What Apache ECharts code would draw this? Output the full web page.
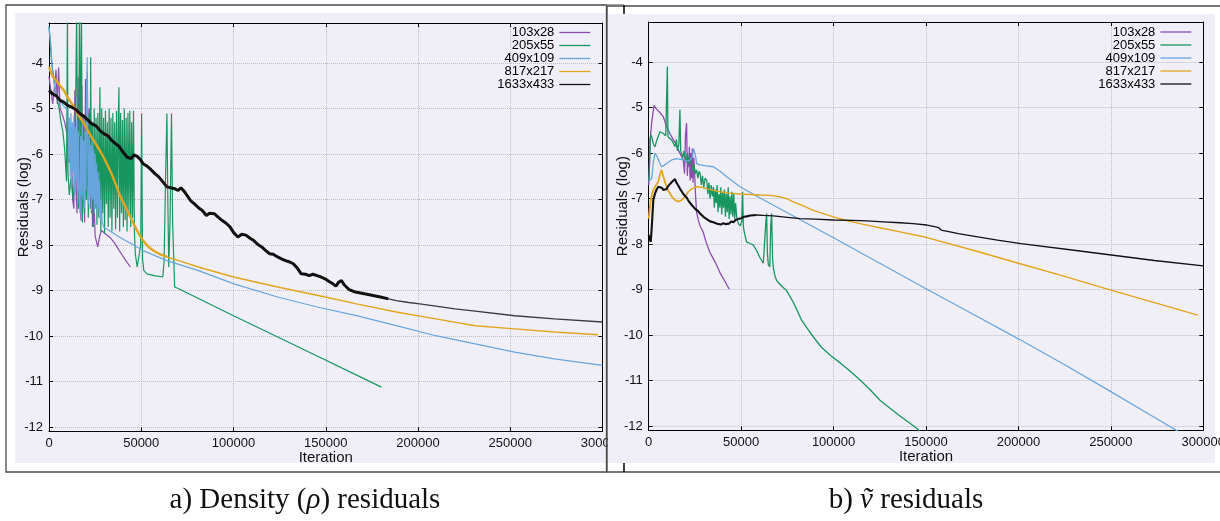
<!DOCTYPE html>
<html>
<head>
<meta charset="utf-8">
<script src="https://cdn.jsdelivr.net/npm/echarts@6/dist/echarts.min.js"></script>
<style>html,body{margin:0;padding:0;background:#fff}#c{width:1220px;height:521px}</style>
</head>
<body>
<div id="c"></div>
<script>
// ---------- DATA ----------
const seriesNames = ['103x28', '205x55', '409x109', '817x217', '1633x433'];
const captionA = ['a) Density (', 'ρ', ') residuals'];
const captionB = ['b) ', 'ṽ', ' residuals'];
const xTitle = 'Iteration';
const yTitle = 'Residuals (log)';

// a) density residuals  [iteration, log10 residual]
const rho103 = [[0,-4.3],[1000,-4.6],[2000,-4.9],[3000,-4.5],[3800,-4.15],[4500,-4.9],[5200,-4.1],[6000,-5.0],[7000,-5.1],[8500,-5.3],[10000,-5.6],[11000,-6.2],[12000,-5.4],[12800,-7.0],[13500,-7.2],[14000,-4.6],[14600,-6.8],[15200,-7.3],[15800,-4.3],[16300,-7.1],[16800,-5.6],[17300,-7.46],[17800,-4.5],[18300,-7.2],[18800,-5.2],[19300,-7.5],[19800,-4.35],[20300,-7.0],[20800,-4.2],[21300,-6.6],[21800,-5.0],[22400,-7.2],[23000,-6.0],[23600,-7.6],[24200,-6.8],[25000,-7.8],[26400,-8.04],[27500,-7.8],[28500,-7.68],[30500,-7.75],[32800,-7.82],[35500,-7.95],[38100,-8.12],[41000,-8.3],[44100,-8.48]];
const rho205 = [[0,-3.2],[700,-3.6],[1500,-4.0],[2500,-4.3],[3500,-4.6],[4500,-4.8],[5500,-5.0],[6500,-5.3],[7500,-5.5],[8500,-5.9],[9500,-6.6],[10000,-2.8],[10300,-6.4],[11000,-6.9],[12000,-6.5],[13000,-7.0],[14000,-6.6],[15000,-2.8],[15500,-6.2],[16000,-7.2],[16500,-2.8],[17000,-6.0],[17600,-2.8],[18100,-7.5],[18700,-5.5],[19200,-7.3],[19800,-5.2],[20300,-7.0],[20800,-5.4],[21300,-7.4],[21800,-5.1],[22300,-6.9],[22600,-3.87],[23000,-7.3],[23500,-5.3],[24000,-7.6],[24500,-5.0],[25000,-7.2],[25500,-5.2],[26000,-7.55],[26500,-5.1],[27000,-7.4],[27600,-4.53],[28100,-7.7],[28600,-5.0],[29100,-7.3],[29600,-5.2],[30100,-7.75],[30600,-5.05],[31100,-7.1],[31600,-5.3],[32100,-7.6],[32600,-5.0],[33100,-7.4],[33600,-5.2],[34100,-7.7],[34600,-5.1],[35100,-7.2],[35600,-5.3],[36100,-7.65],[36600,-5.05],[37100,-7.4],[37600,-5.2],[37900,-4.53],[38300,-7.7],[38800,-5.1],[39300,-7.3],[39800,-5.25],[40300,-7.6],[40800,-5.0],[41300,-7.45],[41800,-5.2],[42300,-7.7],[42800,-5.1],[43300,-7.3],[43800,-5.05],[44300,-7.6],[44800,-5.3],[45300,-7.4],[45800,-5.05],[46300,-7.7],[46800,-8.2],[47800,-8.48],[48800,-8.5],[49700,-8.0],[50200,-5.11],[50700,-8.3],[51400,-8.56],[53100,-8.63],[57000,-8.67],[61700,-8.7],[62400,-8.34],[63200,-6.5],[63900,-5.11],[64400,-7.0],[64900,-8.48],[65600,-7.5],[66400,-5.11],[67000,-7.5],[68100,-8.92],[70300,-8.96],[100000,-9.55],[140000,-10.33],[180200,-11.12]];
const rho409 = [[0,-3.2],[1000,-3.6],[1700,-4.1],[3000,-4.5],[4000,-4.7],[6000,-4.82],[8000,-4.95],[10300,-5.04],[10700,-6.1],[11100,-5.2],[11500,-6.5],[11900,-5.1],[12300,-6.72],[12700,-5.3],[13100,-6.4],[13500,-5.15],[13900,-6.9],[14300,-5.4],[14700,-6.6],[15100,-5.25],[15500,-7.1],[15900,-5.5],[16300,-6.8],[16800,-7.3],[17200,-5.6],[17600,-6.9],[18000,-5.35],[18400,-7.0],[18800,-5.7],[19200,-7.2],[19600,-5.5],[20000,-6.8],[20400,-4.6],[20700,-3.87],[21000,-5.9],[21400,-7.1],[21800,-5.6],[22200,-6.95],[22600,-5.8],[23000,-7.25],[23400,-5.7],[23800,-7.0],[24200,-5.9],[24600,-7.3],[25000,-6.0],[25400,-7.1],[25800,-6.2],[26200,-7.35],[26600,-6.4],[27000,-7.2],[27400,-6.6],[27800,-7.45],[28300,-7.0],[28800,-7.5],[29600,-7.6],[38100,-7.82],[51000,-8.12],[63900,-8.34],[81000,-8.56],[100300,-8.85],[123900,-9.14],[145300,-9.36],[166700,-9.55],[188200,-9.77],[209600,-9.99],[231000,-10.17],[252400,-10.35],[273900,-10.5],[300000,-10.64]];
const rho817 = [[0,-4.09],[2000,-4.3],[3900,-4.38],[6000,-4.5],[8100,-4.6],[10000,-4.75],[12400,-4.89],[14500,-5.03],[16700,-5.19],[19000,-5.33],[21000,-5.48],[23000,-5.62],[25300,-5.77],[27500,-5.92],[29600,-6.07],[31800,-6.25],[33900,-6.43],[36000,-6.65],[38100,-6.87],[40000,-7.05],[42400,-7.24],[44500,-7.42],[46700,-7.6],[48800,-7.76],[51000,-7.9],[53000,-8.0],[55200,-8.08],[57400,-8.14],[59700,-8.19],[63900,-8.26],[70300,-8.34],[81000,-8.48],[100000,-8.7],[123900,-8.92],[145300,-9.1],[166700,-9.29],[188200,-9.47],[209600,-9.62],[231000,-9.77],[252400,-9.84],[273900,-9.91],[297500,-9.97]];
const rho1633 = [[0,-4.6],[2000,-4.68],[4000,-4.72],[6000,-4.82],[8000,-4.86],[10000,-4.93],[12400,-4.97],[14500,-5.02],[16700,-5.11],[19000,-5.17],[21000,-5.25],[23100,-5.33],[25500,-5.38],[27500,-5.48],[29600,-5.55],[32000,-5.6],[34000,-5.7],[36000,-5.77],[38000,-5.83],[40000,-5.95],[42400,-6.07],[44500,-6.1],[46000,-6.02],[47800,-6.05],[49500,-6.12],[51000,-6.21],[53000,-6.26],[55000,-6.33],[57400,-6.43],[59500,-6.5],[61500,-6.6],[63900,-6.72],[66000,-6.74],[68100,-6.76],[70000,-6.8],[71500,-6.74],[73500,-6.83],[75000,-6.92],[76700,-7.02],[79000,-7.1],[81000,-7.18],[83100,-7.24],[85300,-7.35],[87000,-7.3],[89600,-7.31],[91500,-7.38],[93900,-7.46],[96000,-7.52],[98100,-7.6],[100000,-7.72],[102400,-7.82],[104500,-7.76],[106700,-7.78],[109000,-7.85],[111000,-7.9],[113000,-7.98],[115300,-8.04],[117500,-8.12],[119600,-8.19],[121500,-8.2],[123900,-8.26],[126000,-8.3],[128200,-8.34],[130500,-8.37],[132400,-8.41],[134500,-8.5],[136700,-8.63],[139000,-8.64],[141000,-8.67],[143000,-8.64],[145300,-8.67],[147500,-8.7],[149600,-8.74],[151800,-8.8],[153900,-8.85],[155500,-8.9],[157100,-8.81],[158500,-8.78],[160000,-8.87],[162400,-8.97],[166000,-9.03],[171000,-9.07],[175000,-9.1],[179600,-9.14],[184000,-9.18],[188200,-9.22],[195000,-9.26],[201000,-9.29],[209600,-9.34],[220000,-9.4],[231000,-9.45],[252400,-9.55],[273900,-9.62],[300000,-9.69]];

// b) nu-tilde residuals
const nu103 = [[0,-6.7],[500,-6.2],[1000,-5.6],[1700,-5.3],[2900,-4.95],[4300,-5.04],[6100,-5.11],[7900,-5.2],[9700,-5.42],[11500,-5.57],[13300,-5.71],[14800,-5.8],[16000,-5.93],[17500,-6.05],[18700,-6.15],[19400,-6.45],[19900,-5.6],[20500,-5.34],[20900,-6.5],[21400,-6.1],[21700,-6.3],[22000,-5.86],[22400,-6.6],[22800,-6.0],[23200,-6.55],[23600,-5.9],[24000,-6.65],[24400,-6.1],[24800,-6.4],[25300,-6.9],[25900,-7.3],[27000,-7.5],[27800,-7.6],[29500,-7.74],[31000,-7.95],[33200,-8.19],[36000,-8.4],[38600,-8.63],[41000,-8.8],[43600,-8.99]];
const nu205 = [[0,-6.6],[300,-6.45],[700,-5.7],[1200,-5.6],[1700,-5.65],[2500,-5.8],[3400,-5.86],[4500,-5.7],[6100,-5.53],[7900,-5.57],[9200,-5.62],[9800,-5.6],[10100,-4.1],[10400,-5.64],[11400,-5.68],[12400,-5.71],[13300,-5.78],[14200,-5.86],[15000,-5.7],[15500,-5.95],[16300,-5.8],[16900,-5.05],[17300,-5.95],[17800,-5.93],[18500,-6.1],[19100,-5.95],[19600,-6.08],[20300,-6.2],[21000,-6.0],[21700,-6.25],[22400,-6.1],[23200,-6.23],[23900,-6.4],[24500,-6.25],[25200,-6.45],[25900,-6.37],[26600,-6.55],[27200,-6.4],[27800,-6.45],[28500,-6.7],[29100,-6.5],[29800,-6.75],[30500,-6.55],[31400,-6.6],[32000,-6.9],[32600,-6.65],[33200,-7.0],[33800,-6.7],[34400,-6.95],[35000,-6.74],[35500,-7.2],[36000,-6.8],[36500,-7.1],[37000,-6.7],[37500,-7.3],[38000,-6.9],[38500,-7.2],[39000,-6.75],[39500,-7.35],[40000,-6.85],[40500,-7.2],[41000,-6.8],[41500,-7.4],[42000,-6.9],[42500,-7.3],[43000,-6.75],[43500,-7.45],[44000,-6.95],[44500,-7.35],[45000,-6.85],[45500,-7.4],[46000,-6.9],[46500,-7.45],[47000,-7.1],[47600,-7.4],[48500,-7.55],[49500,-7.6],[50300,-7.5],[50800,-6.85],[51200,-7.6],[51500,-7.7],[52900,-7.95],[54500,-7.98],[56600,-8.02],[58500,-8.15],[60200,-8.3],[62000,-8.42],[62900,-8.45],[63400,-7.5],[63800,-7.33],[64200,-8.2],[64700,-8.45],[65500,-8.5],[66000,-7.6],[66500,-7.33],[67000,-8.3],[67400,-8.52],[68300,-8.7],[69200,-8.8],[71800,-8.92],[74600,-9.02],[78500,-9.3],[82700,-9.67],[88000,-9.98],[93300,-10.26],[98500,-10.45],[103900,-10.62],[109200,-10.8],[114500,-10.99],[119800,-11.2],[125100,-11.43],[135000,-11.75],[145200,-12.05],[147500,-12.15]];
const nu409 = [[0,-6.63],[900,-6.6],[1700,-6.55],[2500,-6.2],[3400,-6.0],[4600,-6.08],[5800,-6.2],[7000,-6.3],[8300,-6.27],[9700,-6.23],[12400,-6.15],[15100,-6.12],[18700,-6.15],[21500,-6.18],[22300,-6.19],[23500,-6.1],[24300,-5.9],[25000,-5.86],[25500,-6.1],[25900,-6.23],[27800,-6.26],[31000,-6.28],[35000,-6.3],[38600,-6.4],[42200,-6.52],[45800,-6.63],[49400,-6.74],[60000,-6.98],[70000,-7.2],[80000,-7.42],[90000,-7.64],[100000,-7.86],[125000,-8.42],[150000,-8.98],[175000,-9.53],[200000,-10.08],[225000,-10.65],[250000,-11.24],[270000,-11.72],[290000,-12.2]];
const nu817 = [[0,-7.44],[600,-7.2],[1100,-7.03],[2500,-6.81],[4000,-6.7],[5200,-6.63],[6200,-6.45],[7000,-6.37],[7800,-6.5],[8800,-6.63],[10000,-6.78],[11500,-6.89],[12800,-6.97],[14200,-7.03],[16000,-7.07],[17400,-7.04],[18700,-7.0],[20000,-6.93],[21400,-6.85],[23500,-6.78],[25900,-6.74],[28500,-6.75],[31400,-6.78],[35000,-6.82],[38600,-6.85],[44000,-6.88],[49400,-6.9],[55000,-6.91],[60200,-6.92],[66000,-6.93],[71000,-6.96],[74500,-7.0],[78300,-7.07],[83500,-7.16],[89100,-7.26],[94500,-7.33],[99900,-7.4],[107000,-7.48],[114300,-7.55],[125000,-7.64],[136000,-7.73],[150000,-7.85],[175000,-8.13],[200000,-8.42],[225000,-8.71],[250000,-9.01],[275000,-9.3],[297000,-9.56]];
const nu1633 = [[0,-7.8],[300,-7.84],[700,-7.9],[1100,-7.95],[1700,-7.6],[2500,-7.03],[3500,-6.88],[4300,-6.8],[5200,-6.74],[6200,-6.78],[7000,-6.76],[7900,-6.81],[8800,-6.77],[9700,-6.79],[10600,-6.72],[11500,-6.7],[12400,-6.64],[13300,-6.6],[14200,-6.57],[15000,-6.65],[15800,-6.7],[16900,-6.78],[17800,-6.84],[18700,-6.9],[19600,-6.93],[20600,-6.98],[21500,-7.05],[22400,-7.08],[23300,-7.14],[24100,-7.18],[25000,-7.22],[25900,-7.26],[26800,-7.28],[27800,-7.33],[28700,-7.34],[29600,-7.4],[30500,-7.4],[31400,-7.45],[32300,-7.44],[33200,-7.5],[34100,-7.48],[35000,-7.52],[36000,-7.5],[37000,-7.55],[38000,-7.52],[39000,-7.57],[40400,-7.54],[41500,-7.56],[42500,-7.52],[43500,-7.55],[44600,-7.5],[45800,-7.52],[47000,-7.47],[48000,-7.48],[49000,-7.44],[50200,-7.43],[51500,-7.4],[53000,-7.39],[55000,-7.37],[58400,-7.36],[62000,-7.37],[67400,-7.38],[75000,-7.41],[81900,-7.44],[90000,-7.45],[99900,-7.47],[110000,-7.48],[118000,-7.49],[127000,-7.51],[136000,-7.53],[143000,-7.55],[150500,-7.58],[154000,-7.61],[156900,-7.64],[157500,-7.68],[158200,-7.69],[163000,-7.73],[167500,-7.77],[178000,-7.84],[188700,-7.91],[201400,-7.99],[231100,-8.14],[252300,-8.25],[273500,-8.36],[300000,-8.48]];

// ---------- STYLE ----------
const colors = ['#8a4cae', '#17965f', '#68a5de', '#e3a41f', '#111111'];
const SANS = 'Liberation Sans, Arial, Helvetica, sans-serif';
const SERIF = 'Liberation Serif, Times New Roman, DejaVu Serif, serif';
const BG = '#f0eff8';
const Y_MIN = -12.09, Y_MAX = -3.12;

function splitAt(data, x) {
  let idx = data.findIndex(p => p[0] > x);
  if (idx < 0) return [data, []];
  return [data.slice(0, idx + 1), data.slice(idx)];
}
function mk(name, data, xi, yi, color, width, z) {
  return {type: 'line', name, data, xAxisIndex: xi, yAxisIndex: yi, symbol: 'none', showSymbol: false,
    color, itemStyle: {color}, lineStyle: {color, width}, clip: true, z, silent: true, animation: false};
}
function panelSeries(sets, xi, yi, z, styles) {
  const out = [];
  sets.forEach((d, i) => {
    const st = styles[i];
    if (st.thickUntil) {
      const [a, b] = splitAt(d, st.thickUntil);
      out.push(mk(seriesNames[i], a, xi, yi, colors[i], st.thick, z));
      if (b.length) out.push(mk(seriesNames[i], b, xi, yi, st.tailColor || colors[i], st.w, z));
    } else {
      out.push(mk(seriesNames[i], d, xi, yi, colors[i], st.w, z));
    }
  });
  return out;
}
const leftStyles = [{w: 1.2}, {w: 1.2}, {w: 1.2}, {w: 1.4, thick: 2.4, thickUntil: 60000}, {w: 1.4, thick: 3, thickUntil: 180000, tailColor: '#3a3a3a'}];
const rightStyles = [{w: 1.3}, {w: 1.3}, {w: 1.3}, {w: 1.4, thick: 1.8, thickUntil: 20000}, {w: 1.3, thick: 2.1, thickUntil: 58000}];

function xAxes(grid, z) {
  return [{
    type: 'value', gridIndex: grid, position: 'bottom', min: 0, max: 300000, interval: 50000, z,
    axisLine: {show: true, onZero: false, lineStyle: {color: '#000', width: 1}},
    axisTick: {show: true, inside: true, length: 4, lineStyle: {color: '#000'}},
    axisLabel: {show: true, margin: 6, fontSize: 13, color: '#111', fontFamily: SANS, formatter: v => String(v)},
    splitLine: {show: true, lineStyle: {type: 'dotted', color: '#bdbdc4', width: 1}},
    name: xTitle, nameLocation: 'middle', nameGap: 19, nameMoveOverlap: false,
    nameTextStyle: {fontSize: 15, color: '#111', fontFamily: SANS}
  }, {
    type: 'value', gridIndex: grid, position: 'top', min: 0, max: 300000, interval: 50000, z,
    axisLine: {show: true, onZero: false, lineStyle: {color: '#000', width: 1}},
    axisTick: {show: true, inside: true, length: 4, lineStyle: {color: '#000'}},
    axisLabel: {show: false}, splitLine: {show: false}
  }];
}
function yAxes(grid, z) {
  return [{
    type: 'value', gridIndex: grid, position: 'left', min: Y_MIN, max: Y_MAX, splitNumber: 9, minInterval: 1, maxInterval: 1, z,
    axisLine: {show: true, onZero: false, lineStyle: {color: '#000', width: 1}},
    axisTick: {show: true, inside: true, length: 4, lineStyle: {color: '#000'}},
    axisLabel: {show: true, margin: 6, fontSize: 13, color: '#111', fontFamily: SANS, showMinLabel: false, showMaxLabel: false},
    splitLine: {show: true, lineStyle: {type: 'dotted', color: '#bdbdc4', width: 1}},
    name: yTitle, nameLocation: 'middle', nameGap: 18, nameMoveOverlap: false,
    nameTextStyle: {fontSize: 15, color: '#111', fontFamily: SANS, padding: [0, 0, 0, 40]}
  }, {
    type: 'value', gridIndex: grid, position: 'right', min: Y_MIN, max: Y_MAX, splitNumber: 9, minInterval: 1, maxInterval: 1, z,
    axisLine: {show: true, onZero: false, lineStyle: {color: '#000', width: 1}},
    axisTick: {show: true, inside: true, length: 4, lineStyle: {color: '#000'}},
    axisLabel: {show: false}, splitLine: {show: false}
  }];
}
function legend(right, top) {
  return {
    data: seriesNames.slice(), orient: 'vertical', right, top, align: 'right', padding: 0,
    itemWidth: 31, itemHeight: 8, itemGap: 0, selectedMode: false,
    lineStyle: {width: 1.3}, itemStyle: {opacity: 0},
    textStyle: {fontSize: 13, lineHeight: 13, color: '#000', fontFamily: SANS, padding: 0}
  };
}
const capRich = {
  n: {fontFamily: SERIF, fontSize: 29, fontWeight: 'normal', color: '#111'},
  i: {fontFamily: SERIF, fontSize: 29, fontWeight: 'normal', fontStyle: 'italic', color: '#111'}
};

const option = {
  backgroundColor: '#ffffff',
  animation: false,
  textStyle: {fontFamily: SANS},
  grid: [
    {left: 49, top: 23, width: 553.5, height: 408.3, containLabel: false, outerBoundsMode: 'none'},
    {left: 648.7, top: 22, width: 554.6, height: 408.3, containLabel: false, outerBoundsMode: 'none'}
  ],
  xAxis: [...xAxes(0, 0), ...xAxes(1, 2)],
  yAxis: [...yAxes(0, 0), ...yAxes(1, 2)],
  legend: [legend(629, 26), legend(28, 25.5)],
  title: [
    {text: '{n|' + captionA[0] + '}{i|' + captionA[1] + '}{n|' + captionA[2] + '}', left: 305, top: 486, textAlign: 'center', padding: 0, textStyle: {fontWeight: 'normal', rich: capRich}},
    {text: '{n|' + captionB[0] + '}{i|' + captionB[1] + '}{n|' + captionB[2] + '}', left: 906, top: 486, textAlign: 'center', padding: 0, textStyle: {fontWeight: 'normal', rich: capRich}}
  ],
  graphic: {elements: [
    {type: 'rect', z: -10, silent: true, shape: {x: 15, y: 13, width: 591, height: 450}, style: {fill: BG}},
    {type: 'rect', z: 1, silent: true, shape: {x: 608, y: 14, width: 607, height: 449}, style: {fill: BG}},
    {type: 'rect', z: 10, silent: true, shape: {x: 6, y: 5, width: 600.5, height: 467}, style: {fill: null, stroke: '#4a4a4a', lineWidth: 1.3}},
    {type: 'polyline', z: 10, silent: true, shape: {points: [[1221, 6], [607, 6], [607, 472], [1221, 472]]}, style: {fill: null, stroke: '#4a4a4a', lineWidth: 1.3}},
    {type: 'line', z: 10, silent: true, shape: {x1: 606, y1: 5, x2: 624, y2: 5}, style: {stroke: '#777', lineWidth: 1.3}},
    {type: 'line', z: 10, silent: true, shape: {x1: 624, y1: 5, x2: 624, y2: 14}, style: {stroke: '#111', lineWidth: 1.6}},
    {type: 'line', z: 10, silent: true, shape: {x1: 624, y1: 463, x2: 624, y2: 472}, style: {stroke: '#111', lineWidth: 1.6}}
  ]},
  series: [
    ...panelSeries([rho103, rho205, rho409, rho817, rho1633], 0, 0, 2, leftStyles),
    ...panelSeries([nu103, nu205, nu409, nu817, nu1633], 2, 2, 3, rightStyles)
  ]
};
const chart = echarts.init(document.getElementById('c'), null, {renderer: 'canvas'});
chart.setOption(option);
</script>
</body>
</html>
